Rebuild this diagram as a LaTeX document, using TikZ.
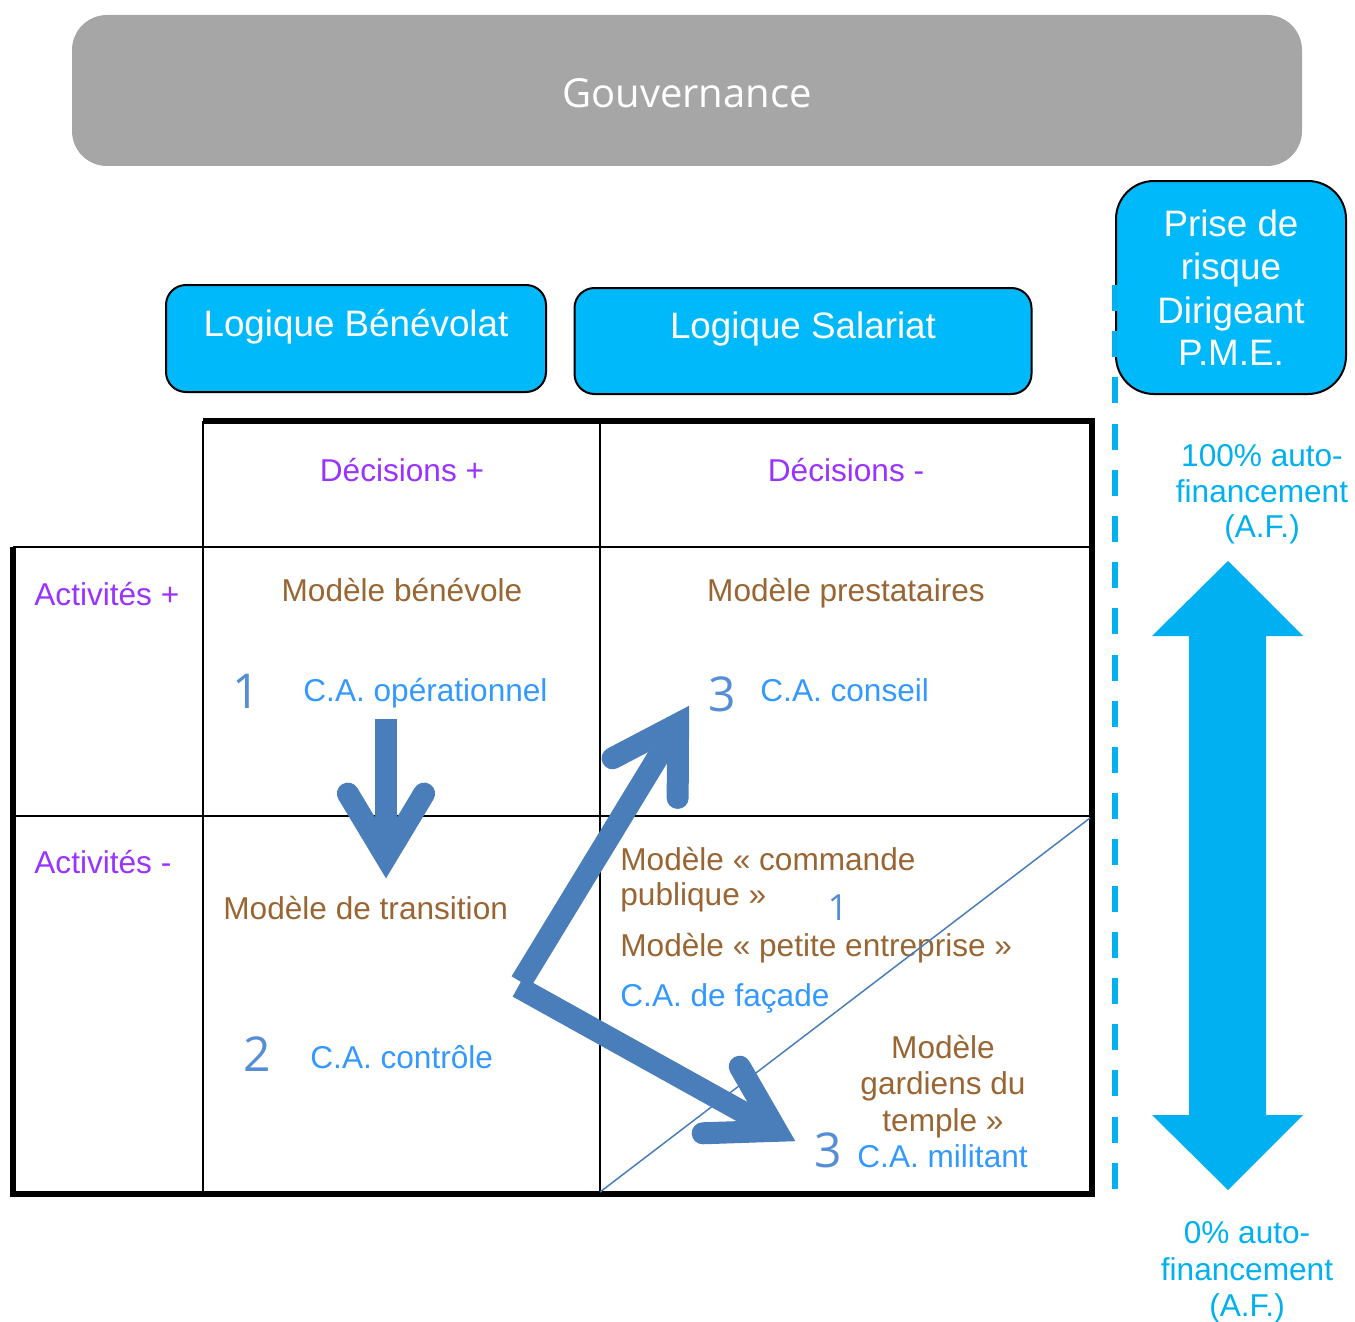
\documentclass[tikz,border=0pt]{standalone}
\usepackage{fontspec}
\setmainfont{Liberation Sans}
\newfontfamily\osans{Open Sans}
\usetikzlibrary{calc}
\definecolor{gouvgray}{HTML}{A6A6A6}
\definecolor{boxcyan}{HTML}{00B9FA}
\definecolor{afcyan}{HTML}{00B0F0}
\definecolor{arrblue}{HTML}{4A7EBB}
\definecolor{brownt}{HTML}{996633}
\definecolor{purplet}{HTML}{9933FF}
\definecolor{bluet}{HTML}{3399FF}
\definecolor{digitc}{HTML}{558ED5}
\tikzset{
  thick line/.style={line width=2.8pt, line cap=butt, line join=miter},
  thin line/.style={line width=1.4pt},
  body/.style={inner sep=0pt, anchor=base, font=\fontsize{15.8}{19}\selectfont},
  bodyw/.style={body, anchor=base west},
  bigtxt/.style={inner sep=0pt, anchor=base, text=white, font=\fontsize{18.4}{22}\selectfont},
  digit/.style={inner sep=0pt, anchor=base, text=digitc, font=\osans\fontsize{24}{28}\selectfont},
  smalldigit/.style={digit, font=\osans\fontsize{18}{20}\selectfont},
  cyanbox/.style={draw=black, line width=1pt, fill=boxcyan, rounded corners=10pt, inner sep=0pt},
  fatline/.style={draw=arrblue, line width=11pt, line cap=butt},
}
\newcommand{\fatarrow}[2]{%
  \coordinate (#2v) at ($(#2)!10.5pt!(#1)$);
  \draw[fatline] (#1) -- (#2v);
  \draw[fatline, line cap=round, line join=miter]
    ($(#2v)!37pt!31:(#1)$) -- (#2v) -- ($(#2v)!37pt!-31:(#1)$);
}
\begin{document}
\begin{tikzpicture}[x=0.5pt,y=-0.5pt]
\useasboundingbox (0,0) rectangle (1355,1322);

% Gouvernance
\node[fill=gouvgray, rounded corners=17.5pt, minimum width=615pt, minimum height=75.5pt, inner sep=0pt] (gouv) at (687,90.5) {};
\node[inner sep=0pt, anchor=base, text=white, font=\osans\fontsize{20}{24}\selectfont] (gouvt) at (687,108) {Gouvernance};

% Logique boxes
\node[cyanbox, minimum width=190pt, minimum height=53.5pt] (ben) at (356,338.5) {};
\node[bigtxt] (bent) at (356,336) {Logique Bénévolat};
\node[cyanbox, minimum width=228.5pt, minimum height=53pt] (sal) at (803,341) {};
\node[bigtxt] (salt) at (803,338) {Logique Salariat};

% Prise de risque
\node[cyanbox, rounded corners=19pt, minimum width=115pt, minimum height=106.5pt] (prise) at (1231,287.5) {};
\node[bigtxt] (p1) at (1231,236) {Prise de};
\node[bigtxt] (p2) at (1231,279) {risque};
\node[bigtxt] (p3) at (1231,323) {Dirigeant};
\node[bigtxt] (p4) at (1231,365) {P.M.E.};

% dashed line
\coordinate (dtop) at (1115,285);
\coordinate (dbot) at (1115,1189);
\draw[afcyan, line width=3pt, dash pattern=on 13pt off 10.1pt] (dtop) -- (dbot);

% table
\draw[thin line] (203,421) -- (203,1194);
\draw[thin line] (600,421) -- (600,1194);
\draw[thin line] (13,547) -- (1092,547);
\draw[thin line] (13,816) -- (1092,816);
\draw[thick line] (203,421) -- (1092,421) -- (1092,1194) -- (13,1194) -- (13,547);

% header texts
\node[body, text=purplet] (d1) at (402,481) {Décisions +};
\node[body, text=purplet] (d2) at (846,481) {Décisions -};
\node[bodyw, text=purplet] (a1) at (34,605) {Activités +};
\node[bodyw, text=purplet] (a2) at (34,873) {Activités -};

% cell texts
\node[body, text=brownt] (mb) at (402,601) {Modèle bénévole};
\node[digit] (n1) at (246,708) {1};
\node[bodyw, text=bluet] (cao) at (303,701) {C.A. opérationnel};

\node[body, text=brownt] (mp) at (846,601) {Modèle prestataires};
\node[digit] (n3a) at (722.5,711) {3};
\node[bodyw, text=bluet] (cac) at (760,701) {C.A. conseil};

\node[bodyw, text=brownt] (mt) at (223,919) {Modèle de transition};
\node[digit] (n2) at (257.5,1071) {2};
\node[bodyw, text=bluet] (cact) at (310,1068) {C.A. contrôle};

\node[bodyw, text=brownt] (mc1) at (620,870) {Modèle « commande};
\node[bodyw, text=brownt] (mc2) at (620,905) {publique »};
\node[smalldigit] (n1b) at (838,920) {1};
\node[bodyw, text=brownt] (mpe) at (620,956) {Modèle « petite entreprise »};
\node[bodyw, text=bluet] (caf) at (620,1006) {C.A. de façade};

\node[body, text=brownt] (mg1) at (943,1058) {Modèle};
\node[body, text=brownt] (mg2) at (943,1094) {gardiens du};
\node[body, text=brownt] (mg3) at (943,1131) {temple »};
\node[digit] (n3b) at (828,1167) {3};
\node[bodyw, text=bluet] (cam) at (857,1167) {C.A. militant};

% right texts
\node[body, text=afcyan] (r1) at (1262,466) {100\% auto-};
\node[body, text=afcyan] (r2) at (1262,502) {financement};
\node[body, text=afcyan] (r3) at (1262,537) {(A.F.)};
\node[body, text=afcyan] (s1) at (1247,1243) {0\% auto-};
\node[body, text=afcyan] (s2) at (1247,1280) {financement};
\node[body, text=afcyan] (s3) at (1247,1316) {(A.F.)};

% double arrow
\fill[afcyan] (1228,561) -- (1303,636) -- (1266,636) -- (1266,1115) -- (1303,1115)
  -- (1228,1190) -- (1152,1115) -- (1189,1115) -- (1189,636) -- (1152,636) -- cycle;

% diagonal
\coordinate (dg1) at (600,1192);
\coordinate (dg2) at (1090,818);
\draw[arrblue, line width=0.75pt] (dg1) -- (dg2);

% blue arrows
\coordinate (a1s) at (386,719);
\coordinate (a1t) at (386,878);
\fatarrow{a1s}{a1t}
\coordinate (a2s) at (521,982);
\coordinate (a2t) at (689,706);
\fatarrow{a2s}{a2t}
\coordinate (a3s) at (518,987);
\coordinate (a3t) at (795,1141);
\fatarrow{a3s}{a3t}
\end{tikzpicture}
\end{document}
